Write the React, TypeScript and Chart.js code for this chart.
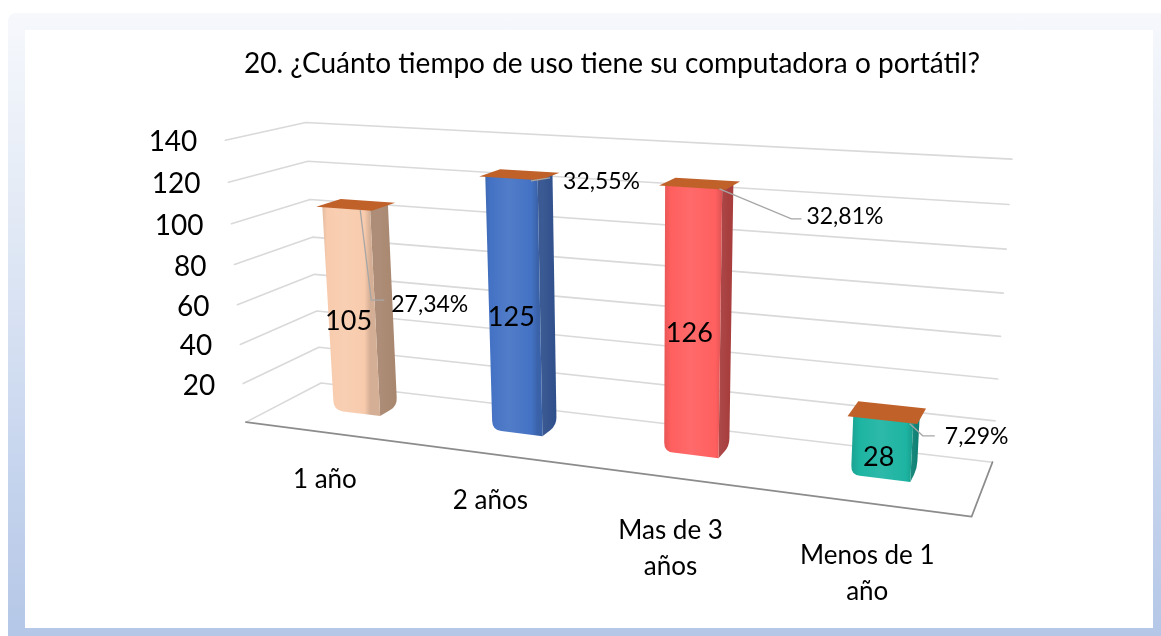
import React, { useEffect, useRef } from "react";
import { Chart, registerables } from "chart.js";

Chart.register(...registerables);

// ---------------- data ----------------
const TITLE = "20. ¿Cuánto tiempo de uso tiene su computadora o portátil?";
const CATEGORIES = [["1 año"], ["2 años"], ["Mas de 3", "años"], ["Menos de 1", "año"]];
const VALUES = [105, 125, 126, 28];
const Y_TICKS = [0, 20, 40, 60, 80, 100, 120, 140];
const BAR_COLORS = ["#f8cbad", "#4472c4", "#ff5f5f", "#1db4a2"];
const SIDE_COLORS = ["#a8866e", "#2f4f8c", "#a83e3e", "#0f8275"];
const CAP_COLOR = "#c0612a";

// ---------------- 3D frame layout (projection of the unit box: x, value, depth) ----------------
const CUBE_ANCHORS: number[][] = [
  [0, 0, 1, 322, 383],
  [0, 1, 1, 305, 122],
  [1, 0, 1, 992, 463],
  [1, 1, 1, 1012, 159],
  [0, 0, 0, 245, 422],
  [1, 0, 0, 972, 516],
  [0, 1, 0, 226, 141],
];
const BAR_Z0 = 0.45;
const BAR_Z1 = 0.7;
const FONT = "Lato, 'Open Sans', sans-serif";

// leader lines / percentage label offsets relative to the bar-top centre
const LEADERS = [
  { path: [[5, 5], [16, 95], [29, 95]], label: [36, 100] },
  { path: [[12, 6], [31, 3]], label: [44, 7] },
  { path: [[20, 5], [92, 35], [102, 35]], label: [107, 33] },
  { path: [[23, 11], [36, 23], [48, 23]], label: [58, 24] },
];

function fitProjection(pts: number[][]) {
  const S = 1000;
  const n = 11;
  const M: number[][] = Array.from({ length: n }, () => new Array(n + 1).fill(0));
  const add = (row: number[], r: number) => {
    for (let i = 0; i < n; i++) {
      for (let j = 0; j < n; j++) M[i][j] += row[i] * row[j];
      M[i][n] += row[i] * r;
    }
  };
  for (const [X, Y, Z, u0, v0] of pts) {
    const u = u0 / S;
    const v = v0 / S;
    add([X, Y, Z, 1, 0, 0, 0, 0, -u * X, -u * Y, -u * Z], u);
    add([0, 0, 0, 0, X, Y, Z, 1, -v * X, -v * Y, -v * Z], v);
  }
  for (let c = 0; c < n; c++) {
    let piv = c;
    for (let r = c + 1; r < n; r++) if (Math.abs(M[r][c]) > Math.abs(M[piv][c])) piv = r;
    const tmp = M[c];
    M[c] = M[piv];
    M[piv] = tmp;
    for (let r = 0; r < n; r++) {
      if (r === c) continue;
      const f = M[r][c] / M[c][c];
      for (let k = c; k <= n; k++) M[r][k] -= f * M[c][k];
    }
  }
  const p = M.map((row, i) => row[n] / row[i]);
  return (x: number, h: number, z: number): [number, number] => {
    const w = p[8] * x + p[9] * h + p[10] * z + 1;
    return [
      (S * (p[0] * x + p[1] * h + p[2] * z + p[3])) / w,
      (S * (p[4] * x + p[5] * h + p[6] * z + p[7])) / w,
    ];
  };
}

const project = fitProjection(CUBE_ANCHORS);
type Pt = [number, number];

function poly(ctx: CanvasRenderingContext2D, pts: Pt[]) {
  ctx.beginPath();
  ctx.moveTo(pts[0][0], pts[0][1]);
  for (let i = 1; i < pts.length; i++) ctx.lineTo(pts[i][0], pts[i][1]);
  ctx.closePath();
}

function toward(a: Pt, b: Pt, d: number): Pt {
  const dx = b[0] - a[0], dy = b[1] - a[1];
  const len = Math.hypot(dx, dy) || 1;
  const t = Math.min(0.45, d / len);
  return [a[0] + dx * t, a[1] + dy * t];
}

// quad with rounded corners at the listed indices
function roundedQuad(ctx: CanvasRenderingContext2D, pts: Pt[], rounded: boolean[], r: number) {
  ctx.beginPath();
  const n = pts.length;
  for (let i = 0; i < n; i++) {
    const cur = pts[i], prev = pts[(i + n - 1) % n], next = pts[(i + 1) % n];
    if (rounded[i]) {
      const a = toward(cur, prev, r), b = toward(cur, next, r);
      if (i === 0) ctx.moveTo(a[0], a[1]);
      else ctx.lineTo(a[0], a[1]);
      ctx.quadraticCurveTo(cur[0], cur[1], b[0], b[1]);
    } else if (i === 0) ctx.moveTo(cur[0], cur[1]);
    else ctx.lineTo(cur[0], cur[1]);
  }
  ctx.closePath();
}

function shade(hex: string, amt: number) {
  const n = parseInt(hex.slice(1), 16);
  let r = (n >> 16) & 255, g = (n >> 8) & 255, b = n & 255;
  const f = (c: number) => Math.max(0, Math.min(255, Math.round(amt >= 0 ? c + (255 - c) * amt : c * (1 + amt))));
  r = f(r); g = f(g); b = f(b);
  return `rgb(${r},${g},${b})`;
}

const perspectivePlugin = {
  id: "perspective3d",
  beforeDatasetsDraw(chart: any) {
    const ctx: CanvasRenderingContext2D = chart.ctx;
    const area = chart.chartArea;
    const ys = chart.scales.y;
    const hOf = (v: number) => (area.bottom - ys.getPixelForValue(v)) / area.height;
    ctx.save();
    ctx.lineCap = "round";
    ctx.lineJoin = "round";
    // walls gridlines
    ctx.strokeStyle = "#d9d9d9";
    ctx.lineWidth = 1.6;
    for (const t of Y_TICKS) {
      const h = hOf(t);
      const a = project(0, h, 0), b = project(0, h, 1), c = project(1, h, 1);
      ctx.beginPath();
      ctx.moveTo(a[0], a[1]);
      ctx.lineTo(b[0], b[1]);
      ctx.lineTo(c[0], c[1]);
      ctx.stroke();
    }
    // floor front & right edge
    const f0 = project(0, 0, 0), f1 = project(1, 0, 0), f2 = project(1, 0, 1);
    ctx.strokeStyle = "#8c8c8c";
    ctx.lineWidth = 1.8;
    ctx.beginPath();
    ctx.moveTo(f0[0], f0[1]);
    ctx.lineTo(f1[0], f1[1]);
    ctx.lineTo(f2[0], f2[1]);
    ctx.stroke();
    // tick labels
    ctx.fillStyle = "#000";
    ctx.font = `28px ${FONT}`;
    ctx.textAlign = "right";
    ctx.textBaseline = "middle";
    for (const t of Y_TICKS) {
      if (t === 0) continue;
      const p = project(0, hOf(t), 0);
      ctx.fillText(String(t), p[0] - 28, p[1] + 2);
    }
    // category labels
    ctx.textAlign = "center";
    ctx.font = `26px ${FONT}`;
    const meta = chart.getDatasetMeta(0);
    meta.data.forEach((el: any, i: number) => {
      const u = (el.x - area.left) / area.width;
      const p = project(u, 0, 0);
      const lines = CATEGORIES[i];
      const y0 = p[1] + 47 + (lines.length - 1) * 6;
      lines.forEach((ln, k) => ctx.fillText(ln, p[0] + 1, y0 + k * 36));
    });
    ctx.restore();
  },
  afterDatasetsDraw(chart: any) {
    const ctx: CanvasRenderingContext2D = chart.ctx;
    const area = chart.chartArea;
    const meta = chart.getDatasetMeta(0);
    const total = VALUES.reduce((a, b) => a + b, 0);
    ctx.save();
    const tops: Pt[] = [];
    meta.data.forEach((el: any, i: number) => {
      const u0 = (el.x - el.width / 2 - area.left) / area.width;
      const u1 = (el.x + el.width / 2 - area.left) / area.width;
      const h = (area.bottom - el.y) / area.height;
      const z0 = BAR_Z0, z1 = BAR_Z1;
      const col = BAR_COLORS[i];
      const fa = project(u0, 0, z0), fb = project(u1, 0, z0), fc = project(u1, h, z0), fd = project(u0, h, z0);
      const sb = project(u1, 0, z1), sc = project(u1, h, z1);
      // side face
      roundedQuad(ctx, [fb, sb, sc, fc], [false, true, false, false], 8);
      const sg = ctx.createLinearGradient(fb[0], 0, sb[0], 0);
      sg.addColorStop(0, shade(SIDE_COLORS[i], 0.06));
      sg.addColorStop(1, SIDE_COLORS[i]);
      ctx.fillStyle = sg;
      ctx.fill();
      // front face
      const g = ctx.createLinearGradient(fd[0], 0, fc[0], 0);
      g.addColorStop(0, shade(col, -0.08));
      g.addColorStop(0.1, col);
      g.addColorStop(0.45, shade(col, 0.07));
      g.addColorStop(0.88, col);
      g.addColorStop(1, shade(col, -0.14));
      roundedQuad(ctx, [fd, fa, fb, fc], [false, true, false, false], 9);
      ctx.fillStyle = g;
      ctx.fill();
      // top cap
      const e = (u1 - u0) * 0.08;
      poly(ctx, [project(u0 - e, h, z0 - 0.03), project(u1 + e, h, z0 - 0.03), project(u1 + e, h, z1 + 0.05), project(u0 - e, h, z1 + 0.05)]);
      ctx.fillStyle = CAP_COLOR;
      ctx.fill();
      // value label
      const c = project((u0 + u1) / 2, h / 2, z0);
      ctx.fillStyle = "#000";
      ctx.font = `27px ${FONT}`;
      ctx.textAlign = "center";
      ctx.textBaseline = "middle";
      ctx.fillText(String(VALUES[i]), c[0] - 3, c[1] + 9);
      tops.push(project((u0 + u1) / 2, h, (z0 + z1) / 2));
    });
    // percentage labels with leader lines
    ctx.strokeStyle = "#a6a6a6";
    ctx.lineWidth = 1.3;
    ctx.font = `23px ${FONT}`;
    ctx.textAlign = "left";
    ctx.textBaseline = "middle";
    ctx.fillStyle = "#000";
    tops.forEach((t, i) => {
      const L = LEADERS[i];
      ctx.beginPath();
      L.path.forEach((q, k) => (k === 0 ? ctx.moveTo(t[0] + q[0], t[1] + q[1]) : ctx.lineTo(t[0] + q[0], t[1] + q[1])));
      ctx.stroke();
      const pct = ((VALUES[i] / total) * 100).toFixed(2).replace(".", ",") + "%";
      ctx.fillText(pct, t[0] + L.label[0], t[1] + L.label[1]);
    });
    ctx.restore();
  },
};

export default function App() {
  const ref = useRef<HTMLCanvasElement | null>(null);
  useEffect(() => {
    if (!ref.current) return;
    const chart = new Chart(ref.current, {
      type: "bar",
      data: {
        labels: CATEGORIES,
        datasets: [
          {
            data: VALUES,
            backgroundColor: "rgba(0,0,0,0)",
            borderWidth: 0,
            categoryPercentage: 1,
            barPercentage: 0.3,
          },
        ],
      },
      options: {
        responsive: false,
        animation: false,
        devicePixelRatio: 1,
        layout: { padding: { left: 63, right: 0, top: 0, bottom: 0 } },
        plugins: {
          legend: { display: false },
          tooltip: { enabled: false },
          title: {
            display: true,
            text: TITLE,
            color: "#000",
            font: { family: FONT, size: 28, weight: "normal" },
            padding: { top: 47, bottom: 10 },
          },
        },
        scales: {
          x: { display: false },
          y: { display: false, min: 0, max: 140 },
        },
      },
      plugins: [perspectivePlugin],
    } as any);
    return () => chart.destroy();
  }, []);

  return (
    <div style={{ position: "absolute", left: 0, top: 0, width: 1161, height: 636, overflow: "hidden", background: "#fff" }}>
      <div
        style={{
          position: "absolute",
          left: 8,
          top: 13,
          width: 1153,
          height: 623,
          borderTopLeftRadius: 8,
          background: "linear-gradient(180deg, #f6f8fc 0%, #e4ebf6 30%, #c8d6ee 70%, #b5c7e7 100%)",
        }}
      />
      <div style={{ position: "absolute", left: 25, top: 30, width: 1128, height: 598, background: "#fff" }} />
      <canvas ref={ref} width={1161} height={636} style={{ position: "absolute", left: 0, top: 0, width: 1161, height: 636 }} />
    </div>
  );
}
